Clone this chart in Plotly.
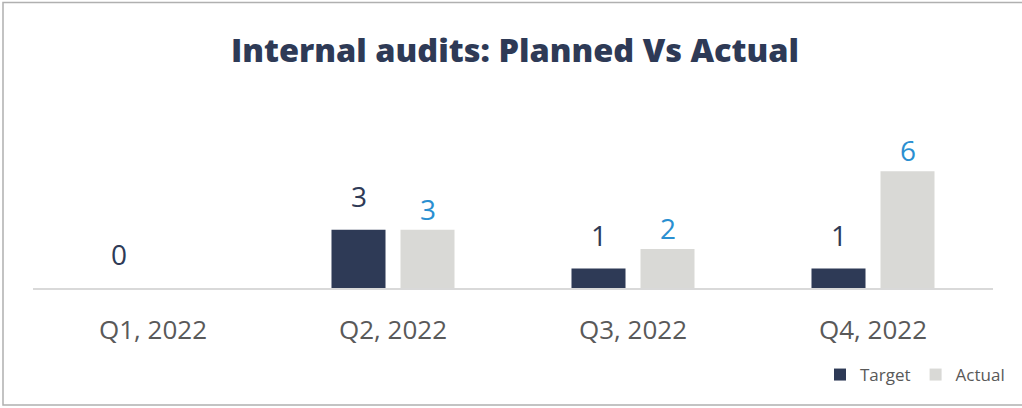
import plotly.graph_objects as go

categories = ["Q1, 2022", "Q2, 2022", "Q3, 2022", "Q4, 2022"]
target = [0, 3, 1, 1]
actual = [None, 3, 2, 6]

NAVY = "#2E3A56"
GREY = "#D9D9D6"
BLUE = "#2A8FD1"
TICK = "#595959"

W, H = 1022, 408
L, R, T, B = 33, 29, 100, 120
pw, ph = W - L - R, H - T - B

fig = go.Figure()
fig.add_trace(go.Bar(name="Target", x=categories, y=target, marker=dict(color=NAVY, line=dict(width=0))))
fig.add_trace(go.Bar(name="Actual", x=categories, y=actual, marker=dict(color=GREY, line=dict(width=0))))

ann = []
for c, v in zip(categories, target):
    if v is not None:
        ann.append(dict(x=c, y=v, xref="x", yref="y", text=str(v), showarrow=False,
                        xshift=-34.5, yshift=34, yanchor="middle",
                        font=dict(family="Open Sans", size=28, color=NAVY)))
for c, v in zip(categories, actual):
    if v is not None:
        ann.append(dict(x=c, y=v, xref="x", yref="y", text=str(v), showarrow=False,
                        xshift=34.5, yshift=21, yanchor="middle",
                        font=dict(family="Open Sans", size=28, color=BLUE)))


def px_x(p):
    return (p - L) / pw


def px_y(p):
    return (H - B - p) / ph


frame_path = "M {a},{t} L {b},{t} L {b},{d} L {a},{d}".format(
    a=px_x(1200), b=px_x(3), t=px_y(2.5), d=px_y(405))
shapes = [dict(type="path", xref="paper", yref="paper", path=frame_path,
               line=dict(color="#B0B0B0", width=1.5))]

fig.update_layout(
    width=W, height=H,
    margin=dict(l=L, r=R, t=T, b=B),
    paper_bgcolor="white", plot_bgcolor="white",
    barmode="group", bargap=0.425, bargroupgap=0.217,
    title=dict(text="Internal audits: Planned Vs Actual", x=515 / W, xref="container",
               xanchor="center", y=1 - 51 / H, yref="container", yanchor="middle",
               font=dict(family="Open Sans", size=32.5, color=NAVY, weight=800)),
    xaxis=dict(showline=True, linecolor="#D9D9D9", linewidth=1.5, showgrid=False, ticks="",
               tickfont=dict(family="Open Sans", size=26, color=TICK), ticklabelstandoff=18),
    yaxis=dict(range=[0, ph / 19.45], visible=False, showgrid=False, zeroline=False),
    legend=dict(orientation="h", x=px_x(1010), xanchor="right", y=px_y(375), yanchor="middle",
                font=dict(family="Open Sans", size=17, color=TICK), traceorder="normal",
                itemwidth=30, bgcolor="rgba(0,0,0,0)"),
    annotations=ann,
    shapes=shapes,
    showlegend=True,
)

fig.write_html("out.html", config={"displayModeBar": False},
               post_script="document.body.style.margin='0';document.body.style.overflow='hidden';")
